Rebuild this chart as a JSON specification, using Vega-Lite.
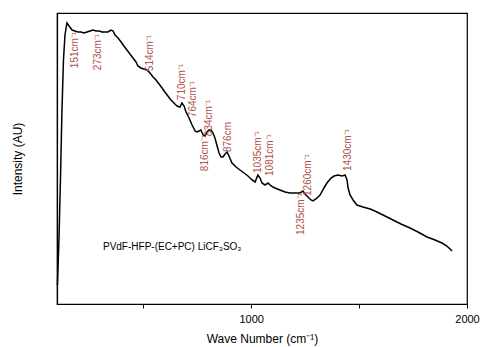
{
  "$schema": "https://vega.github.io/schema/vega-lite/v6.json",
  "width": 410,
  "height": 291,
  "autosize": "none",
  "padding": {"left": 57, "top": 13, "right": 16, "bottom": 43},
  "background": "white",
  "config": {
    "font": "Liberation Sans",
    "view": {"stroke": "black", "strokeWidth": 1.2},
    "axis": {"domainColor": "black", "tickColor": "black", "labelColor": "black", "titleColor": "black", "titleFontWeight": "normal", "grid": false}
  },
  "datasets": {
    "spectrum": [
      {"w":102,"i":19},{"w":109,"i":64},{"w":116,"i":124},{"w":123,"i":194},{"w":130,"i":244},{"w":137,"i":269},{"w":146,"i":281},{"w":156,"i":278},{"w":170,"i":274},{"w":183,"i":273},{"w":197,"i":272},{"w":211,"i":272},{"w":225,"i":271},{"w":239,"i":272},{"w":253,"i":273},{"w":267,"i":274},{"w":281,"i":273},{"w":295,"i":273},{"w":309,"i":272},{"w":322,"i":272},{"w":336,"i":272},{"w":350,"i":274},{"w":360,"i":273},{"w":369,"i":269},{"w":383,"i":266},{"w":397,"i":262},{"w":410,"i":258},{"w":424,"i":254},{"w":438,"i":250},{"w":452,"i":246},{"w":466,"i":242},{"w":475,"i":238},{"w":489,"i":236},{"w":503,"i":235},{"w":517,"i":234},{"w":531,"i":231},{"w":545,"i":227},{"w":559,"i":224},{"w":573,"i":220},{"w":587,"i":216},{"w":600,"i":212},{"w":614,"i":208},{"w":628,"i":204},{"w":642,"i":201},{"w":656,"i":198},{"w":670,"i":197},{"w":679,"i":201},{"w":689,"i":198},{"w":698,"i":192},{"w":712,"i":186},{"w":726,"i":179},{"w":740,"i":173},{"w":749,"i":172},{"w":758,"i":173},{"w":767,"i":174},{"w":777,"i":169},{"w":786,"i":168},{"w":795,"i":172},{"w":804,"i":174},{"w":814,"i":174},{"w":823,"i":171},{"w":832,"i":166},{"w":842,"i":158},{"w":851,"i":151},{"w":860,"i":147},{"w":869,"i":147},{"w":879,"i":150},{"w":888,"i":152},{"w":897,"i":148},{"w":911,"i":141},{"w":930,"i":137},{"w":948,"i":134},{"w":967,"i":131},{"w":985,"i":128},{"w":1004,"i":124},{"w":1018,"i":122},{"w":1027,"i":127},{"w":1031,"i":129},{"w":1041,"i":126},{"w":1050,"i":121},{"w":1064,"i":119},{"w":1078,"i":121},{"w":1092,"i":118},{"w":1110,"i":116},{"w":1133,"i":114},{"w":1157,"i":112},{"w":1180,"i":111},{"w":1203,"i":111},{"w":1226,"i":111},{"w":1240,"i":113},{"w":1249,"i":110},{"w":1263,"i":107},{"w":1277,"i":104},{"w":1286,"i":103},{"w":1300,"i":105},{"w":1319,"i":109},{"w":1337,"i":116},{"w":1351,"i":121},{"w":1370,"i":126},{"w":1384,"i":128},{"w":1402,"i":129},{"w":1421,"i":128},{"w":1435,"i":129},{"w":1444,"i":124},{"w":1449,"i":116},{"w":1458,"i":109},{"w":1472,"i":104},{"w":1490,"i":99},{"w":1518,"i":97},{"w":1551,"i":95},{"w":1583,"i":92},{"w":1620,"i":88},{"w":1657,"i":84},{"w":1694,"i":80},{"w":1736,"i":76},{"w":1773,"i":72},{"w":1815,"i":67},{"w":1852,"i":64},{"w":1884,"i":61},{"w":1907,"i":58},{"w":1931,"i":53}
    ],
    "peaks": [
      {"label":"151cm⁻¹","w":183,"i":254},
      {"label":"273cm⁻¹","w":290,"i":252},
      {"label":"514cm⁻¹","w":531,"i":251},
      {"label":"710cm⁻¹","w":679,"i":222},
      {"label":"764cm⁻¹","w":730,"i":205},
      {"label":"834cm⁻¹","w":804,"i":186},
      {"label":"816cm⁻¹","w":786,"i":151},
      {"label":"876cm","w":892,"i":167},
      {"label":"1035cm⁻¹","w":1031,"i":152},
      {"label":"1081cm⁻¹","w":1087,"i":149},
      {"label":"1235cm⁻¹","w":1231,"i":90},
      {"label":"1260cm⁻¹","w":1263,"i":129},
      {"label":"1430cm⁻¹","w":1448,"i":154}
    ],
    "note": [
      {"label":"PVdF-HFP-(EC+PC) LiCF₃SO₃","w":313,"i":57}
    ]
  },
  "layer": [
    {
      "data": {"name": "spectrum"},
      "mark": {"type": "line", "color": "black", "strokeWidth": 1.5},
      "encoding": {
        "x": {"field": "w", "type": "quantitative", "scale": {"domain": [100, 2000], "nice": false, "zero": false},
              "axis": {"title": "Wave Number (cm⁻¹)", "values": [500, 1000, 1500, 2000], "labelExpr": "datum.value % 1000 === 0 ? datum.label : ''", "format": "d", "labelFontSize": 11, "labelFlush": false, "titleFontSize": 12, "tickSize": 4, "labelPadding": 5, "titlePadding": 9, "domainWidth": 1.2}},
        "y": {"field": "i", "type": "quantitative", "scale": {"domain": [0, 291], "nice": false},
              "axis": {"title": "Intensity (AU)", "labels": false, "ticks": false, "titleFontSize": 12, "titlePadding": 33, "domainWidth": 1.2}}
      }
    },
    {
      "data": {"name": "peaks"},
      "mark": {"type": "text", "angle": 270, "align": "center", "baseline": "middle", "fontSize": 10, "color": "#b0504e"},
      "encoding": {
        "x": {"field": "w", "type": "quantitative"},
        "y": {"field": "i", "type": "quantitative"},
        "text": {"field": "label"}
      }
    },
    {
      "data": {"name": "note"},
      "mark": {"type": "text", "align": "left", "baseline": "middle", "fontSize": 10, "color": "black"},
      "encoding": {
        "x": {"field": "w", "type": "quantitative"},
        "y": {"field": "i", "type": "quantitative"},
        "text": {"field": "label"}
      }
    }
  ]
}
